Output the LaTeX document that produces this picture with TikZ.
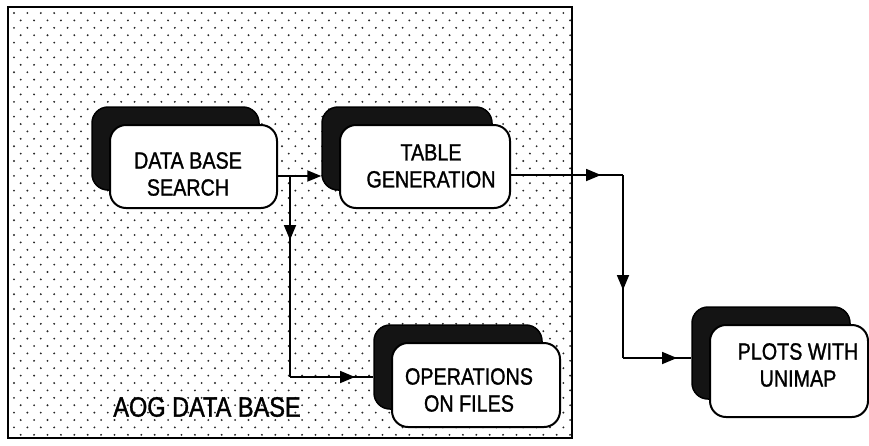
\documentclass[tikz,border=0pt]{standalone}
\usepackage{fontspec}
\newfontfamily\boxfont[FakeStretch=0.84,FakeBold=1.2]{Liberation Sans}
\usetikzlibrary{arrows.meta,decorations.markings,calc}
\begin{document}
\begin{tikzpicture}[x=1pt,y=-1pt,
  dotc/.style={fill=black!85},
  frame/.style={draw=black, line width=2.2pt},
  shadowbox/.style={draw=black, fill=black!92, rounded corners=16pt, line width=1.5pt, inner sep=0pt},
  frontbox/.style={draw=black, fill=white, rounded corners=16pt, line width=2pt, inner sep=0pt},
  boxtext/.style={align=center, inner sep=0pt, font=\boxfont\fontsize{23.5}{27}\selectfont},
  conn/.style={draw=black, line width=1.8pt},
  endtip/.style={-{Triangle[length=14pt,width=11pt]}},
  midtip/.style={postaction={decorate}, decoration={markings,
    mark=at position #1 with {\arrow{Triangle[length=15pt,width=12pt]}}}}]
\useasboundingbox (0,0) rectangle (869,445);
% stippled data base area
\foreach \r in {0,...,57}{
  \foreach \c in {0,...,41}{
    \fill[dotc] ({14+\c*13.4+mod(\r,2)*6.7},{13+\r*7.4}) circle (1.05pt);
  }
}
\draw[frame] (8,7) rectangle (572,438);
% shadows
\node[shadowbox, minimum width=167pt, minimum height=83pt] (dbsS) at (175.5,148.5) {};
\node[shadowbox, minimum width=170pt, minimum height=83pt] (tgS) at (407,148.5) {};
\node[shadowbox, minimum width=168pt, minimum height=84pt] (opS) at (458,367) {};
\node[shadowbox, minimum width=158pt, minimum height=92pt] (plS) at (771,353) {};
% front boxes
\node[frontbox, minimum width=167pt, minimum height=83pt] (dbs) at (193.5,166.5) {};
\node[frontbox, minimum width=170pt, minimum height=83pt] (tg) at (425,166.5) {};
\node[frontbox, minimum width=168pt, minimum height=84pt] (op) at (476,385) {};
\node[frontbox, minimum width=158pt, minimum height=92pt] (pl) at (789,371) {};
% box texts
\node[boxtext] (dbsT) at (188,174) {DATA BASE\\SEARCH};
\node[boxtext] (tgT) at (431,166) {TABLE\\GENERATION};
\node[boxtext] (opT) at (469,390) {OPERATIONS\\ON FILES};
\node[boxtext] (plT) at (798,365) {PLOTS WITH\\UNIMAP};
% junctions
\coordinate (j1) at (290,176);
\coordinate (j2) at (290,377);
\coordinate (j3) at (623,175);
\coordinate (j4) at (623,358);
% connectors
\draw[conn, endtip] (dbs.east |- j1) -- (tgS.west |- j1);
\draw[conn, midtip=64pt] (j1) -- (j2);
\draw[conn, midtip=65pt] (j2) -- (opS.west |- j2);
\draw[conn, midtip=90pt] (tg.east |- j3) -- (j3);
\draw[conn, midtip=115pt] (j3) -- (j4);
\draw[conn, midtip=54pt] (j4) -- (plS.west |- j4);
% label
\node[font=\boxfont\fontsize{28}{32}\selectfont] (aog) at (207,407) {AOG DATA BASE};
\end{tikzpicture}
\end{document}
